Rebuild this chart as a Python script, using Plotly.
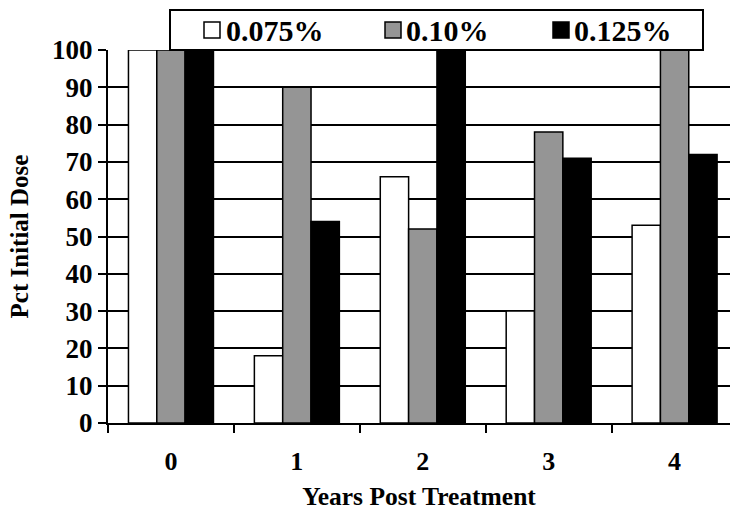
import plotly.graph_objects as go

# Years after treatment and the percentage of the initial dose remaining
years = ["0", "1", "2", "3", "4"]
dose_0075 = [100, 18, 66, 30, 53]
dose_010 = [100, 90, 52, 78, 100]
dose_0125 = [100, 54, 100, 71, 72]

series_names = ["0.075%", "0.10%", "0.125%"]
series_values = [dose_0075, dose_010, dose_0125]
series_colors = ["#ffffff", "#959595", "#000000"]

FONT = "Liberation Serif"
W, H = 730, 511
ML, MR, MT, MB = 108, 0, 50, 88
PW, PH = W - ML - MR, H - MT - MB

fig = go.Figure()
for name, vals, col in zip(series_names, series_values, series_colors):
    fig.add_trace(go.Bar(
        x=years, y=vals, name=name,
        marker=dict(color=col, line=dict(color="black", width=1.5)),
        showlegend=False,
    ))


def px_x(px):
    return (px - ML) / PW


def px_y(py):
    return (H - MB - py) / PH


# Legend drawn as a framed box above the plot
shapes = [dict(type="rect", xref="paper", yref="paper",
               x0=px_x(170), x1=px_x(703), y0=px_y(50), y1=px_y(10),
               line=dict(color="black", width=2), fillcolor="white", layer="above")]
annotations = []
legend_pos = [(204, 224), (385, 404), (553, 572)]
for (sq_x, tx_x), name, col in zip(legend_pos, series_names, series_colors):
    shapes.append(dict(type="rect", xref="paper", yref="paper",
                       x0=px_x(sq_x), x1=px_x(sq_x + 16), y0=px_y(38), y1=px_y(22),
                       line=dict(color="black", width=1.5), fillcolor=col, layer="above"))
    annotations.append(dict(text=name, xref="paper", yref="paper",
                            x=px_x(tx_x), y=px_y(31), xanchor="left", yanchor="middle",
                            showarrow=False,
                            font=dict(family=FONT, size=30, color="black", weight="bold")))

fig.update_layout(
    width=W, height=H,
    margin=dict(l=ML, r=MR, t=MT, b=MB, pad=0),
    paper_bgcolor="white", plot_bgcolor="white",
    barmode="group", bargap=0.325, bargroupgap=0,
    shapes=shapes, annotations=annotations,
    font=dict(family=FONT, color="black"),
    xaxis=dict(
        type="category", range=[-0.5, 4.44], tickson="boundaries",
        ticks="outside", ticklen=8, tickwidth=2, tickcolor="black",
        showline=True, linecolor="black", linewidth=2,
        showgrid=False, zeroline=False,
        ticklabelstandoff=14,
        tickfont=dict(family=FONT, size=26, weight="bold"),
        title=dict(text="Years Post Treatment", standoff=14,
                   font=dict(family=FONT, size=25.5, weight="bold")),
    ),
    yaxis=dict(
        range=[0, 100], dtick=10, tick0=0,
        ticks="outside", ticklen=8, tickwidth=2, tickcolor="black",
        showline=True, linecolor="black", linewidth=2,
        showgrid=True, gridcolor="black", gridwidth=2, zeroline=False,
        tickfont=dict(family=FONT, size=27, weight="bold"),
        title=dict(text="Pct Initial Dose", standoff=16,
                   font=dict(family=FONT, size=25, weight="bold")),
    ),
)

fig.write_html("out.html")
